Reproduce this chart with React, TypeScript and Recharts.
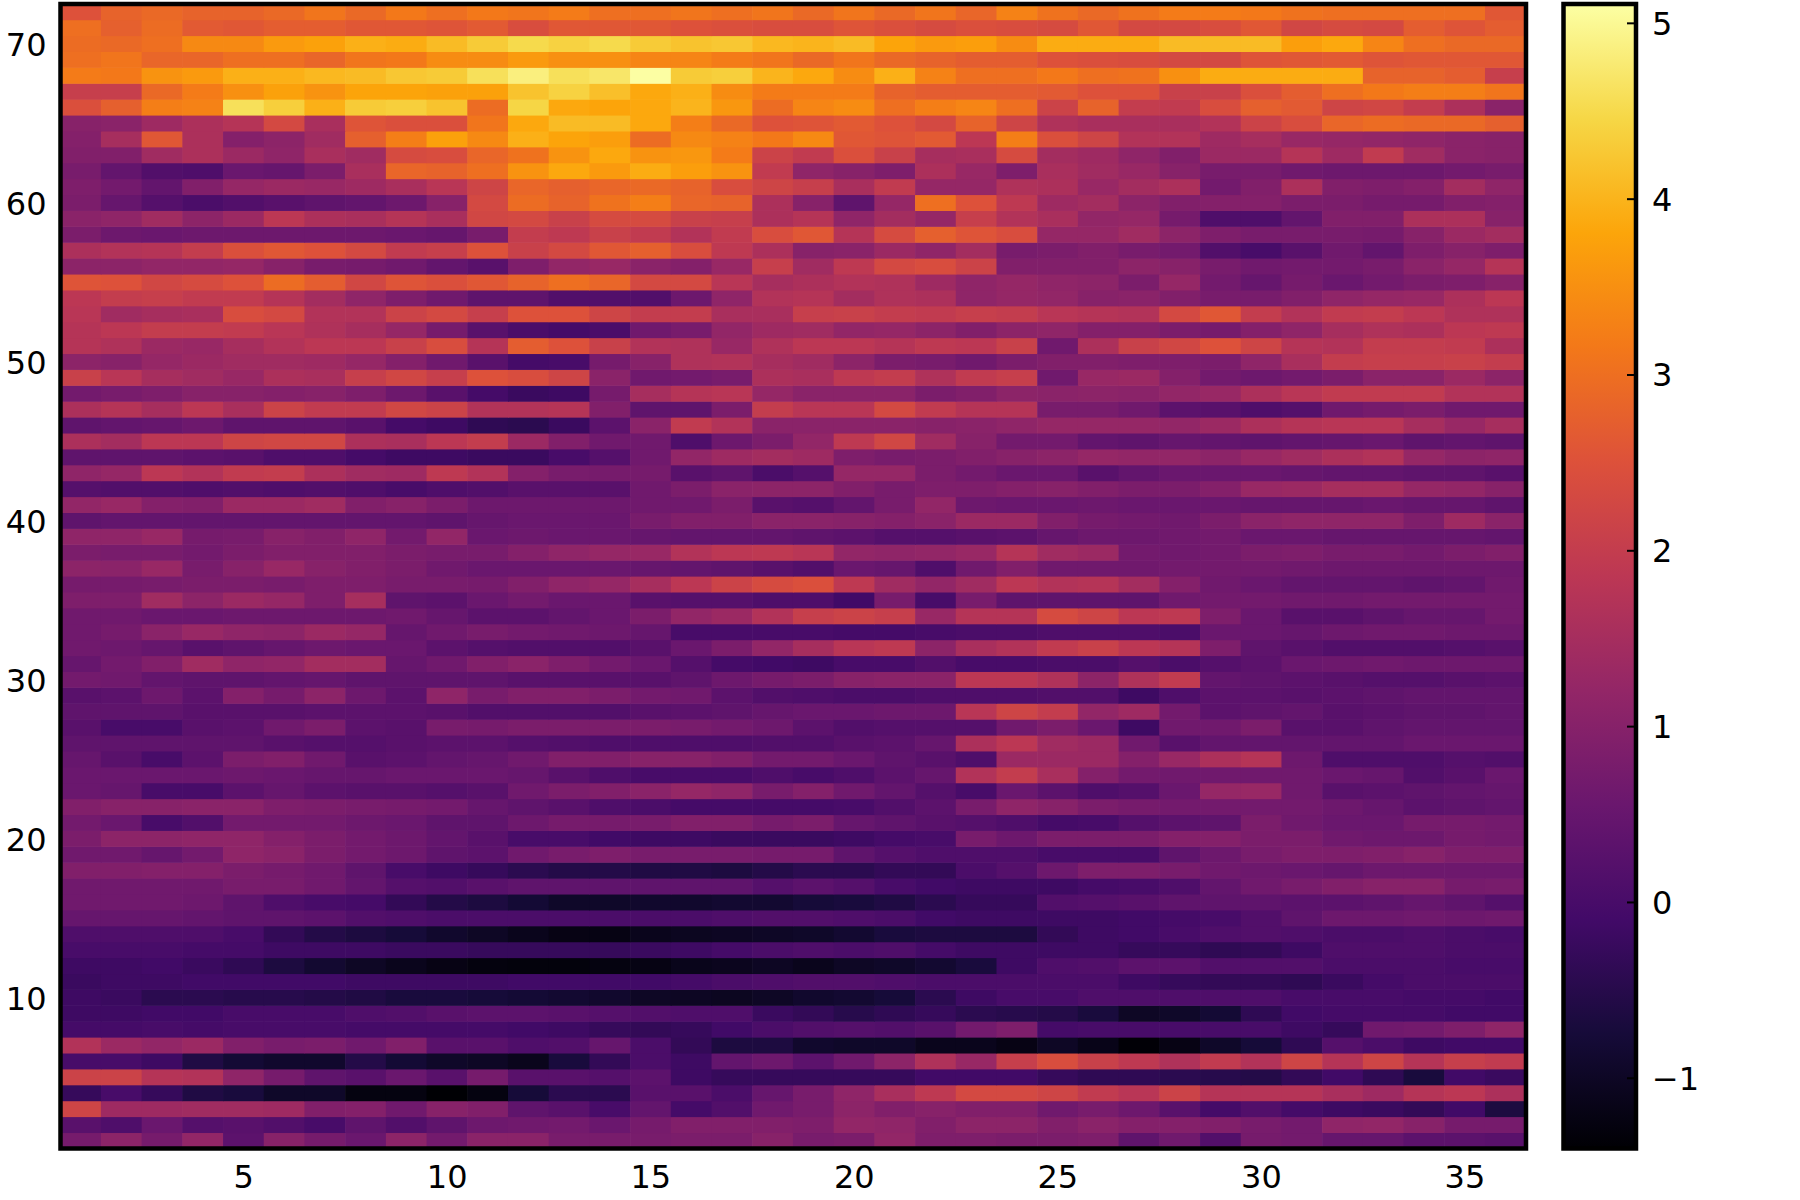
import React from "react";
import { ScatterChart, Scatter, XAxis, YAxis, ReferenceArea } from "recharts";

const r72 = [2.5,2.8,2.9,2.8,2.8,2.9,3.1,2.9,3.15,3.0,3.15,3.1,3.2,3.0,3.0,3.1,3.0,3.1,2.9,3.1,2.9,3.1,2.85,3.3,3.05,2.9,3.05,3.2,3.2,3.15,3.05,3.0,3.0,3.0,3.0,2.6];
const r71 = [3.0,2.75,2.95,2.65,2.6,2.7,2.7,2.6,2.6,2.55,2.65,2.4,2.6,2.6,2.6,2.5,2.45,2.4,2.4,2.55,2.45,2.35,2.45,2.4,2.35,2.6,2.3,2.3,2.4,2.6,2.25,2.35,2.3,2.7,2.55,2.7];
const r70 = [2.95,2.9,3.0,3.4,3.4,3.65,3.75,3.95,3.9,4.1,4.3,4.5,4.4,4.5,4.3,4.2,4.25,4.05,4.0,4.1,3.8,3.65,3.7,3.45,3.9,3.9,3.9,4.1,4.1,4.1,3.7,3.85,3.35,3.0,2.9,2.9];
const r69 = [3.0,3.1,2.85,2.85,3.0,3.0,2.85,3.1,3.15,3.45,3.45,3.65,3.5,3.5,3.35,3.35,3.2,3.1,2.9,3.1,2.9,2.8,2.7,2.7,2.5,2.45,2.4,2.3,2.3,2.55,2.6,2.65,2.55,2.6,2.6,2.6];
const r68 = [3.2,3.15,3.55,3.65,3.95,3.95,4.05,4.1,4.25,4.3,4.6,4.85,4.6,4.7,5.1,4.3,4.35,4.0,3.85,3.45,3.95,3.3,3.0,3.0,3.15,3.0,3.05,3.5,3.9,3.9,3.9,3.9,2.8,2.8,2.7,2.05];
const r67 = [2.05,2.05,2.9,3.2,3.5,3.75,3.55,3.8,3.8,3.75,3.75,4.2,4.4,4.15,3.85,3.95,3.45,3.2,3.2,3.2,2.8,2.7,2.7,2.7,2.65,2.5,2.5,2.1,2.1,2.45,2.7,3.0,3.15,3.25,3.25,3.1];
const r66 = [2.45,2.75,3.25,3.3,4.6,4.35,3.95,4.3,4.35,4.2,2.95,4.45,3.85,3.8,3.85,4.0,3.6,2.95,3.35,3.45,3.0,3.25,3.35,3.0,2.15,2.8,2.0,1.95,2.4,2.75,2.65,2.2,2.25,2.0,1.6,1.0];
const r65 = [0.95,1.0,1.35,1.6,1.75,2.3,1.55,2.55,2.45,2.45,3.1,3.85,4.1,4.1,3.85,3.25,2.9,2.5,2.55,2.65,2.5,2.3,2.8,2.2,1.65,1.55,1.55,1.55,1.7,2.15,2.4,2.85,2.95,2.9,2.9,2.75];
const r64 = [0.9,1.5,2.6,1.6,0.9,1.05,1.4,2.75,3.25,3.75,3.4,3.95,3.8,3.7,2.95,3.4,3.3,3.15,3.4,2.6,2.55,2.65,1.85,3.25,2.45,2.2,1.7,1.7,1.35,1.5,1.25,1.2,1.15,1.1,1.0,0.95];
const r63 = [0.85,0.85,1.4,1.6,1.3,1.1,1.55,1.4,2.35,2.4,2.85,3.05,3.55,3.85,3.55,3.6,3.2,2.15,1.95,2.45,2.1,1.5,1.55,2.35,1.45,1.35,1.1,0.85,1.3,1.3,1.75,1.35,1.95,1.4,1.0,0.95];
const r62 = [0.7,0.35,0.1,0.05,0.45,0.4,0.75,1.55,2.85,2.8,3.0,3.55,3.85,3.65,3.9,3.7,3.55,1.95,1.1,0.95,0.8,1.6,1.25,0.8,1.55,1.4,1.25,0.95,0.7,0.7,0.55,0.5,0.5,0.5,0.6,0.7];
const r61 = [0.8,0.6,0.35,0.85,1.2,1.3,1.25,1.35,1.55,1.8,2.2,2.85,2.75,2.85,2.9,2.8,2.4,2.2,2.05,1.55,1.95,1.2,1.2,1.65,1.6,1.25,1.45,1.6,0.6,0.85,1.6,0.85,0.8,0.9,1.45,1.1];
const r60 = [0.75,0.4,0.15,0.0,0.1,0.2,0.3,0.35,0.5,0.95,2.3,2.95,2.8,3.05,3.25,2.85,2.8,1.6,0.95,0.3,1.2,3.0,2.5,1.9,1.35,1.45,1.05,0.85,0.9,0.9,0.75,0.75,0.65,0.65,0.85,0.9];
const r59 = [1.0,1.1,1.4,1.05,1.3,1.85,1.6,1.55,1.75,1.55,2.25,2.3,2.1,2.35,2.35,2.1,2.05,1.6,1.75,1.1,1.45,1.2,2.05,1.7,1.55,1.15,1.2,0.65,0.05,0.05,0.35,0.85,0.85,1.6,1.6,0.95];
const r58 = [0.75,0.5,0.45,0.5,0.5,0.5,0.5,0.5,0.45,0.4,0.7,2.0,1.9,2.1,1.95,1.7,1.95,2.4,2.6,1.75,2.35,2.75,2.55,2.4,1.2,1.2,1.4,1.05,0.8,0.7,0.7,0.7,0.65,0.95,1.3,1.45];
const r57 = [1.6,1.7,1.75,2.0,2.45,2.6,2.5,2.3,1.95,2.05,2.5,2.1,2.3,2.6,2.75,2.4,1.9,1.6,0.95,1.0,1.3,1.1,1.45,0.7,0.75,0.85,0.7,0.6,0.1,-0.05,0.2,0.55,0.35,0.8,0.95,0.8];
const r56 = [1.05,1.05,1.15,1.15,1.2,0.95,0.7,0.65,0.55,0.35,0.2,0.8,1.15,1.25,1.0,0.9,1.25,2.05,1.4,1.9,2.3,2.4,2.15,0.85,0.85,0.85,1.05,0.95,0.7,0.55,0.6,0.6,0.7,1.0,1.2,1.75];
const r55 = [2.55,2.5,2.25,2.35,2.5,2.95,2.7,2.25,2.55,2.45,2.6,2.8,3.0,2.85,2.3,2.3,1.8,1.5,1.6,1.7,1.65,1.35,1.1,1.2,1.1,1.05,0.75,1.2,0.6,0.4,0.65,0.45,0.6,0.75,0.8,0.95];
const r54 = [1.85,2.0,2.05,1.95,1.95,1.75,1.45,1.1,0.8,0.55,0.3,0.3,0.1,0.1,0.1,0.5,1.1,1.7,1.75,1.45,1.65,1.6,1.1,1.2,1.15,0.95,1.0,0.85,0.7,0.7,0.85,1.1,1.2,1.25,1.6,1.85];
const r53 = [1.8,1.4,1.5,1.55,2.4,2.3,1.7,1.7,2.15,2.3,2.05,2.5,2.5,2.2,2.0,2.0,1.55,1.55,2.05,2.1,2.0,1.95,2.05,2.0,1.8,1.75,1.7,2.3,2.6,2.0,1.7,1.95,2.0,1.85,1.65,1.65];
const r52 = [1.75,1.85,2.0,2.0,1.95,1.8,1.65,1.5,1.2,0.65,0.2,0.0,-0.1,0.0,0.55,0.7,1.15,1.35,1.4,1.15,1.2,1.05,0.85,1.05,1.1,0.9,0.9,0.75,0.65,0.9,1.1,1.5,1.65,1.6,1.85,1.9];
const r51 = [1.75,1.65,1.3,1.25,1.5,1.7,1.85,1.85,2.1,2.4,1.75,2.7,2.5,2.1,1.7,1.65,1.25,1.65,1.85,1.85,1.75,1.9,1.85,2.1,0.55,1.6,2.1,2.25,2.5,2.2,1.75,1.7,2.0,2.0,1.95,1.6];
const r50 = [1.05,0.95,1.2,1.3,1.4,1.4,1.35,1.2,0.9,0.55,0.2,-0.1,-0.05,0.65,0.95,1.65,1.7,1.5,1.4,1.05,0.75,0.7,0.55,0.75,0.85,0.85,0.8,0.8,0.75,1.1,1.55,2.0,2.05,2.05,2.1,2.0];
const r49 = [2.1,1.8,1.5,1.4,1.25,1.6,1.55,2.05,2.25,2.05,2.5,2.4,2.2,1.0,0.55,0.6,0.7,1.6,1.55,1.9,2.0,1.65,1.95,2.05,0.55,1.25,1.3,0.9,0.6,0.5,0.6,0.75,1.0,1.0,1.3,1.05];
const r48 = [0.6,0.7,0.8,0.95,0.95,0.9,0.95,0.8,0.5,0.2,-0.1,-0.25,-0.2,0.65,1.5,1.75,1.8,1.2,1.0,1.0,1.0,0.75,0.85,1.05,1.0,1.05,1.0,1.15,1.25,1.6,1.8,1.95,1.95,1.95,1.7,1.7];
const r47 = [1.6,1.75,1.5,1.85,1.55,2.15,1.95,1.95,2.25,2.15,1.7,1.7,1.75,0.85,0.3,0.3,0.75,2.0,1.8,1.8,2.3,1.95,1.75,1.75,0.7,0.7,0.55,0.25,0.2,0.05,0.15,0.55,0.65,0.75,0.55,0.55];
const r46 = [0.3,0.35,0.4,0.5,0.3,0.3,0.3,0.2,-0.1,-0.2,-0.4,-0.45,-0.25,0.25,1.0,1.95,1.7,1.0,1.0,1.0,1.0,0.95,1.0,1.1,1.2,1.2,1.2,1.15,1.3,1.6,1.75,1.8,1.8,1.5,1.25,1.5];
const r45 = [1.6,1.45,1.85,1.85,2.2,2.25,2.25,1.6,1.55,1.85,2.0,1.3,0.85,0.55,0.55,0.05,0.5,0.75,1.15,1.9,2.25,1.4,0.95,0.6,0.6,0.35,0.3,0.4,0.35,0.3,0.35,0.4,0.45,0.3,0.35,0.3];
const r44 = [0.3,0.3,0.3,0.25,0.2,0.05,0.05,-0.1,-0.2,-0.2,-0.25,-0.25,-0.05,0.15,0.55,1.15,1.35,1.45,1.35,0.8,0.7,0.75,0.85,0.95,1.05,1.2,1.15,1.15,1.05,1.25,1.4,1.6,1.7,1.2,1.05,1.1];
const r43 = [1.1,1.2,1.85,1.7,1.95,2.0,1.6,1.4,1.35,1.9,1.7,0.9,0.7,0.65,0.65,0.2,0.3,0.0,0.15,1.2,1.2,0.75,0.6,0.45,0.45,0.2,0.35,0.45,0.45,0.45,0.4,0.35,0.35,0.3,0.3,0.2];
const r42 = [0.15,0.1,0.1,0.05,0.1,0.05,0.1,0.05,-0.05,0.05,0.1,0.2,0.2,0.2,0.55,0.75,1.0,1.05,1.05,0.85,0.7,0.8,0.8,0.9,0.95,0.85,0.75,0.75,0.9,1.25,1.3,1.5,1.5,1.2,1.15,0.95];
const r41 = [1.15,1.25,0.9,0.85,1.3,1.3,1.4,0.85,0.95,0.75,0.5,0.5,0.5,0.5,0.55,0.55,0.75,0.2,0.15,0.35,0.7,1.15,0.5,0.45,0.45,0.5,0.45,0.45,0.45,0.4,0.4,0.4,0.45,0.4,0.4,0.3];
const r40 = [0.3,0.35,0.35,0.35,0.35,0.35,0.35,0.35,0.35,0.3,0.4,0.45,0.45,0.45,0.7,0.85,0.85,1.0,1.0,0.95,0.9,1.0,1.3,1.3,0.85,0.65,0.6,0.55,0.75,1.0,1.1,1.1,1.1,0.8,1.35,1.0];
const r39 = [1.1,1.1,1.25,0.65,0.7,0.95,0.85,1.1,0.6,1.15,0.45,0.5,0.45,0.45,0.4,0.35,0.35,0.35,0.3,0.25,0.15,0.15,0.2,0.25,0.4,0.5,0.5,0.55,0.6,0.45,0.45,0.4,0.4,0.4,0.4,0.35];
const r38 = [0.75,0.7,0.7,0.6,0.75,0.85,0.85,0.85,0.75,0.7,0.7,0.9,1.1,1.2,1.25,1.7,1.85,1.9,1.8,1.15,1.1,1.15,1.25,1.75,1.4,1.3,0.6,0.55,0.6,0.75,0.8,0.7,0.7,0.6,0.75,0.85];
const r37 = [1.05,1.0,1.25,0.7,0.95,1.25,0.95,0.85,0.75,0.55,0.45,0.45,0.45,0.45,0.4,0.35,0.3,0.2,0.1,0.45,0.4,0.05,0.55,0.85,0.55,0.55,0.55,0.6,0.6,0.6,0.55,0.5,0.5,0.5,0.5,0.5];
const r36 = [0.65,0.65,0.7,0.75,0.75,0.7,0.8,0.8,0.7,0.7,0.65,0.85,1.1,1.2,1.5,1.85,2.15,2.35,2.45,1.9,1.4,1.15,1.4,1.85,1.7,1.75,1.45,0.9,0.55,0.45,0.35,0.35,0.35,0.3,0.35,0.55];
const r35 = [0.8,0.8,1.4,1.05,1.3,1.2,0.8,1.5,0.3,0.25,0.45,0.6,0.45,0.45,0.2,0.15,0.15,0.05,0.05,-0.15,0.7,-0.05,0.7,0.3,0.3,0.3,0.3,0.55,0.6,0.6,0.55,0.55,0.6,0.6,0.6,0.6];
const r34 = [0.55,0.55,0.45,0.45,0.5,0.5,0.5,0.5,0.55,0.4,0.25,0.25,0.35,0.45,0.75,1.15,1.3,1.7,2.05,2.15,2.05,1.25,1.75,1.75,2.35,2.2,1.85,1.9,0.8,0.45,0.2,0.2,0.3,0.4,0.4,0.6];
const r33 = [0.55,0.65,1.0,1.25,1.1,1.05,1.3,1.2,0.4,0.55,0.7,0.6,0.55,0.5,0.4,-0.05,-0.05,-0.05,-0.05,-0.1,-0.1,-0.05,0,0,0.05,0.05,0.05,0.0,0.45,0.45,0.4,0.5,0.55,0.55,0.5,0.5];
const r32 = [0.55,0.5,0.4,0.2,0.3,0.4,0.5,0.45,0.45,0.25,0.15,0.1,0.1,0.1,0.2,0.45,0.75,1.15,1.5,1.8,1.9,1.05,1.55,1.7,1.95,2.1,1.85,1.75,0.8,0.3,0.2,0.1,0.1,0.1,0.15,0.2];
const r31 = [0.4,0.6,0.85,1.4,1.1,1.15,1.45,1.45,0.4,0.55,0.85,1.0,0.8,0.6,0.45,0.15,-0.1,-0.15,-0.2,-0.05,-0.05,0.1,-0.05,-0.05,0.0,0,0.15,0.0,0.15,0.25,0.45,0.5,0.55,0.5,0.5,0.5];
const r30 = [0.6,0.55,0.35,0.3,0.3,0.35,0.4,0.3,0.3,0.3,0.3,0.2,0.2,0.2,0.2,0.3,0.5,0.65,0.75,0.95,1.0,1.0,1.85,1.85,1.65,1.05,1.65,1.95,0.35,0.3,0.25,0.2,0.15,0.15,0.2,0.25];
const r29 = [0.2,0.25,0.5,0.25,0.9,0.65,1.05,0.5,0.25,1.1,0.7,0.85,0.85,0.75,0.6,0.55,0.25,0.1,0.05,0.0,0.0,0.05,0.05,0.05,0.1,0.1,-0.2,0.05,0.25,0.25,0.2,0.25,0.3,0.35,0.35,0.35];
const r28 = [0.3,0.3,0.3,0.2,0.2,0.2,0.25,0.25,0.25,0.2,0.1,0.1,0.1,0.1,0.2,0.25,0.3,0.4,0.45,0.45,0.5,0.5,1.8,2.2,2.0,1.15,1.35,0.6,0.25,0.3,0.35,0.2,0.25,0.3,0.3,0.35];
const r27 = [0.2,-0.05,-0.05,0.2,0.25,0.55,0.75,0.25,0.2,0.7,0.65,0.75,0.75,0.75,0.75,0.7,0.6,0.5,0.25,0.1,0.15,0.15,0.15,0.55,0.75,0.45,-0.2,0.55,0.55,0.75,0.2,0.2,0.3,0.35,0.35,0.35];
const r26 = [0.3,0.3,0.3,0.3,0.3,0.2,0.15,0.15,0.2,0.25,0.25,0.15,0.1,0.05,0.05,0.05,0.05,0.1,0.1,0.2,0.25,0.4,1.6,1.85,1.4,1.3,0.55,0.2,0.35,0.35,0.35,0.35,0.35,0.45,0.45,0.45];
const r25 = [0.4,0.2,-0.05,0.25,0.75,0.85,0.55,0.2,0.25,0.35,0.4,0.55,0.85,0.85,0.95,0.95,0.85,0.6,0.6,0.45,0.3,0.2,0.05,1.3,1.3,1.3,0.9,1.25,1.6,1.75,0.5,0.05,0.05,0.05,0.15,0.1];
const r24 = [0.45,0.45,0.45,0.45,0.5,0.45,0.4,0.4,0.45,0.45,0.45,0.4,0.2,0.05,-0.05,-0.05,-0.05,0.05,-0.05,0.05,0.25,0.4,1.7,2.0,1.55,0.9,0.6,0.55,0.55,0.55,0.55,0.45,0.4,0.1,0.2,0.45];
const r23 = [0.45,0.4,-0.05,-0.05,0.25,0.4,0.25,0.2,0.2,0.15,0.2,0.55,0.75,0.85,1.0,1.2,1.1,0.7,0.9,0.55,0.35,0.15,-0.05,0.45,0.25,0.05,0.15,0.45,1.2,1.25,0.55,0.2,0.25,0.3,0.35,0.4];
const r22 = [0.85,0.95,0.95,1.0,1.0,0.8,0.75,0.7,0.65,0.6,0.4,0.3,0.2,0.05,0,-0.1,-0.1,-0.1,-0.1,-0.05,0.1,0.25,0.7,1.1,0.95,0.75,0.65,0.6,0.6,0.6,0.6,0.5,0.4,0.25,0.3,0.35];
const r21 = [0.6,0.45,-0.05,0.1,0.6,0.6,0.6,0.5,0.45,0.3,0.3,0.5,0.65,0.65,0.7,0.85,0.85,0.65,0.75,0.4,0.3,0.2,0.15,0.05,-0.1,-0.05,0.15,0.25,0.3,0.75,0.55,0.45,0.45,0.65,0.65,0.6];
const r20 = [0.75,1.05,1.05,1.1,1.1,0.9,0.75,0.6,0.5,0.35,0.2,-0.05,-0.05,-0.15,-0.2,-0.2,-0.25,-0.25,-0.25,-0.2,-0.1,-0.05,0.7,0.5,0.75,0.75,0.75,0.9,0.9,0.75,0.75,0.55,0.5,0.5,0.65,0.6];
const r19 = [0.55,0.55,0.4,0.6,1.1,1.0,0.75,0.6,0.5,0.3,0.25,0.55,0.7,0.8,0.7,0.7,0.7,0.65,0.65,0.3,0.15,0.05,0.05,0.05,-0.05,-0.05,-0.05,0.3,0.5,0.7,0.8,0.8,0.85,0.95,0.8,0.8];
const r18 = [0.85,0.85,0.9,0.9,0.75,0.65,0.55,0.3,-0.05,-0.2,-0.3,-0.45,-0.55,-0.55,-0.6,-0.6,-0.65,-0.55,-0.45,-0.45,-0.35,-0.35,0.0,0.15,0.5,0.8,0.8,0.7,0.55,0.5,0.45,0.4,0.5,0.5,0.5,0.5];
const r17 = [0.55,0.55,0.55,0.55,0.7,0.7,0.55,0.35,0.15,0.1,0.2,0.3,0.3,0.3,0.3,0.3,0.3,0.15,0.25,0.15,-0.05,-0.15,-0.2,-0.2,-0.2,-0.1,-0.05,0.05,0.35,0.55,0.7,0.85,0.95,0.95,0.65,0.7];
const r16 = [0.55,0.55,0.55,0.5,0.3,0.05,-0.05,-0.1,-0.35,-0.55,-0.65,-0.8,-0.95,-0.95,-0.9,-0.9,-0.85,-0.85,-0.75,-0.7,-0.6,-0.45,-0.3,-0.3,0.1,0.15,0.2,0.3,0.3,0.3,0.25,0.25,0.3,0.4,0.3,0.15];
const r15 = [0.4,0.4,0.4,0.35,0.3,0.3,0.25,0.1,0.05,0,0,0,0,0,0,0,0.05,0.1,0.1,0.05,0.0,-0.15,-0.2,-0.2,-0.2,-0.2,-0.15,-0.1,-0.05,0.1,0.3,0.5,0.5,0.55,0.5,0.55];
const r14 = [0.05,0.05,0.05,0.05,-0.05,-0.35,-0.55,-0.65,-0.75,-0.9,-1.0,-1.1,-1.2,-1.22,-1.1,-1.05,-1.02,-0.98,-0.95,-0.85,-0.7,-0.65,-0.65,-0.65,-0.35,-0.2,-0.15,-0.05,0.05,0.1,0.05,0,0,0.05,0,-0.05];
const r13 = [-0.05,-0.05,-0.05,-0.1,-0.1,-0.2,-0.2,-0.2,-0.25,-0.25,-0.3,-0.3,-0.3,-0.3,-0.25,-0.2,-0.1,0.0,0.05,0.0,0.05,-0.1,-0.2,-0.2,-0.2,-0.2,-0.3,-0.3,-0.4,-0.35,-0.2,0.05,0.05,0.05,0,0];
const r12 = [-0.2,-0.2,-0.15,-0.25,-0.4,-0.65,-0.85,-1.0,-1.1,-1.2,-1.28,-1.3,-1.3,-1.25,-1.22,-1.12,-1.08,-1.02,-1.1,-1.0,-0.95,-0.85,-0.7,-0.2,0.05,0.1,0.25,0.25,0.1,0.1,0.1,0,0,0,-0.05,-0.05];
const r11 = [-0.25,-0.2,-0.2,-0.15,-0.15,-0.15,-0.15,-0.2,-0.2,-0.2,-0.2,-0.15,-0.15,-0.15,-0.15,-0.1,0,0.05,0.1,0.1,0.05,0.0,0,0,0,0.0,-0.2,-0.3,-0.35,-0.35,-0.4,-0.25,-0.1,0,0.0,0];
const r10 = [-0.2,-0.25,-0.45,-0.45,-0.5,-0.5,-0.55,-0.6,-0.7,-0.7,-0.75,-0.8,-0.85,-0.9,-1.0,-1.02,-1.05,-1.0,-0.9,-0.85,-0.75,-0.45,-0.2,-0.05,-0.05,0.05,0.05,0.05,0.05,0.05,-0.05,-0.05,-0.05,-0.1,-0.1,-0.15];
const r9 = [-0.2,-0.2,-0.15,-0.15,-0.05,-0.05,-0.05,0.05,0.1,0.2,0.25,0.25,0.2,0.15,0.1,0.05,0.05,-0.25,-0.35,-0.5,-0.4,-0.3,-0.45,-0.5,-0.55,-0.7,-1.0,-0.95,-0.8,-0.4,-0.15,-0.1,-0.1,-0.1,-0.15,-0.15];
const r8 = [-0.1,-0.1,-0.05,-0.1,-0.05,-0.05,-0.05,-0.1,-0.1,-0.1,-0.1,-0.15,-0.2,-0.3,-0.35,-0.3,-0.15,0.0,0.1,0.15,0.1,0.2,0.6,0.8,-0.1,-0.05,-0.05,-0.05,-0.05,-0.05,-0.2,-0.3,0.55,0.6,0.8,1.1];
const r7 = [1.7,1.3,1.15,1.3,0.85,0.7,0.75,0.55,0.85,0.2,0.2,0.05,0.1,0.4,0.0,-0.35,-0.65,-0.65,-0.9,-0.95,-0.95,-1.1,-1.1,-1.2,-1.0,-1.15,-1.38,-1.2,-0.95,-0.75,-0.4,0.15,0.0,-0.2,-0.15,-0.15];
const r6 = [-0.05,-0.05,-0.2,-0.6,-0.8,-0.9,-0.9,-0.55,-0.8,-0.95,-1.0,-1.1,-0.7,-0.35,0.0,-0.2,0.35,0.5,0.25,0.55,1.05,1.65,1.25,2.05,2.4,2.1,1.9,1.65,1.95,1.7,2.2,1.75,2.2,1.75,2.05,1.95];
const r5 = [2.15,2.15,1.75,1.7,1.1,0.65,0.3,0.2,0.45,0.2,0.65,0.2,0.2,0.15,0.25,-0.2,-0.3,-0.3,-0.3,-0.3,-0.3,-0.15,-0.15,-0.15,-0.3,-0.4,-0.4,-0.45,-0.5,-0.55,-0.35,-0.15,-0.4,-0.7,-0.15,-0.25];
const r4 = [-0.3,-0.05,-0.3,-0.6,-0.7,-0.95,-0.95,-1.25,-1.25,-1.4,-1.25,-0.75,-0.45,-0.45,0.2,0.2,0.0,0.4,0.7,1.1,1.55,1.9,2.3,2.3,2.2,1.95,1.8,2.15,1.75,1.75,1.75,1.55,1.35,1.75,1.85,1.6];
const r3 = [2.2,1.35,1.35,1.4,1.4,1.35,0.85,0.9,0.55,0.95,0.85,0.3,0.2,-0.05,0.35,-0.1,0.1,0.55,0.7,1.05,0.85,0.95,0.85,0.85,0.55,0.7,0.5,0.2,-0.1,0.1,-0.1,-0.2,-0.25,-0.35,-0.15,-0.65];
const r2 = [0.2,0.05,0.45,0.15,0.2,0.1,-0.05,0.3,0.1,0.3,0.5,0.55,0.6,0.45,0.65,0.85,0.85,0.85,0.8,1.15,1.1,0.85,1.05,1.05,0.85,1.0,0.9,0.9,0.85,0.7,0.6,1.1,1.15,0.95,0.65,0.65];
const r1 = [0.65,1.05,0.65,1.15,0.25,0.95,0.65,0.45,1.05,0.6,1.0,1.0,0.7,0.7,0.7,0.75,0.75,0.95,0.7,0.75,1.15,0.8,0.8,0.75,0.75,0.8,0.3,0.55,0.1,0.65,0.6,0.4,0.4,0.25,0.25,0.2];

const rows = [r1,r2,r3,r4,r5,r6,r7,r8,r9,r10,r11,r12,r13,r14,r15,r16,r17,r18,r19,r20,r21,r22,r23,r24,r25,r26,r27,r28,r29,r30,r31,r32,r33,r34,r35,r36,r37,r38,r39,r40,r41,r42,r43,r44,r45,r46,r47,r48,r49,r50,r51,r52,r53,r54,r55,r56,r57,r58,r59,r60,r61,r62,r63,r64,r65,r66,r67,r68,r69,r70,r71,r72];

const xTicks = [5, 10, 15, 20, 25, 30, 35];
const yTicks = [10, 20, 30, 40, 50, 60, 70];
const barTicks = [-1, 0, 1, 2, 3, 4, 5];
const V_MIN = -1.4;
const V_MAX = 5.11;
const inferno = ["#000004","#160b39","#420a68","#6a176e","#932667","#bc3754","#dd513a","#f37819","#fca50a","#f6d746","#fcffa4"];

const cells = rows.flatMap((values, r) => values.map((value, c) => ({ col: c + 1, row: r + 1, value })));
const barAnchor = [{ x: 0.5, y: 0 }];

function hex(s: string) {
  return [1, 3, 5].map((i) => parseInt(s.slice(i, i + 2), 16));
}
function colorOf(v: number) {
  const lift = v > -0.6 && v < 1.6 ? 0.1 * (1 - Math.abs(v - 0.5) / 1.1) : 0;
  const t = Math.max(0, Math.min(1, (v + lift - V_MIN) / (V_MAX - V_MIN))) * (inferno.length - 1);
  const i = Math.min(inferno.length - 2, Math.floor(t));
  const a = hex(inferno[i]);
  const b = hex(inferno[i + 1]);
  const f = t - i;
  const m = a.map((x, k) => Math.round(x + (b[k] - x) * f));
  return `rgb(${m[0]},${m[1]},${m[2]})`;
}

const FONT = "'DejaVu Sans', sans-serif";
const CELL_W = 40.71;
const CELL_H = 15.9;
const noMark = () => null;

function HeatCell(props: any) {
  const { cx, cy, payload } = props;
  return (
    <rect
      x={cx - CELL_W / 2 - 0.3}
      y={cy - CELL_H / 2 - 0.3}
      width={CELL_W + 0.6}
      height={CELL_H + 0.6}
      fill={colorOf(payload.value)}
    />
  );
}

function BarTick(props: any) {
  const { x, y, payload } = props;
  const label = payload.value < 0 ? `\u2212${Math.abs(payload.value)}` : String(payload.value);
  return (
    <g>
      <line x1={x - 9} x2={x} y1={y} y2={y} stroke="#000" strokeWidth={2} />
      <text x={x + 16} y={y} dy={11.5} textAnchor="start" fontSize={32} fontFamily={FONT} fill="#000">
        {label}
      </text>
    </g>
  );
}

const tickStyle = { fontSize: 32, fontFamily: FONT, fill: "#000" };
const yTickStyle = { ...tickStyle, dy: 1 };

export default function App() {
  return (
    <div style={{ position: "absolute", left: 0, top: 0, width: 1800, height: 1200, background: "#fff" }}>
      <div style={{ position: "absolute", left: 0, top: 0 }}>
        <ScatterChart width={1540} height={1200} margin={{ left: 0.5, top: 4, right: 14, bottom: 1.4 }}>
          <XAxis
            type="number"
            dataKey="col"
            domain={[0.5, 36.5]}
            ticks={xTicks}
            height={50}
            axisLine={false}
            tickLine={false}
            tickSize={0}
            tickMargin={17}
            tick={tickStyle}
            interval={0}
            allowDataOverflow
          />
          <YAxis
            type="number"
            dataKey="row"
            domain={[0.5, 72.5]}
            ticks={yTicks}
            width={60}
            axisLine={false}
            tickLine={false}
            tickSize={0}
            tickMargin={14}
            tick={yTickStyle}
            interval={0}
            allowDataOverflow
          />
          <Scatter data={cells} shape={HeatCell} isAnimationActive={false} />
        </ScatterChart>
      </div>
      <div style={{ position: "absolute", left: 0, top: 0 }}>
        <ScatterChart width={1540} height={1200} margin={{ left: 60.5, top: 4, right: 14, bottom: 51.4 }}>
          <XAxis type="number" dataKey="col" domain={[0.5, 36.5]} hide />
          <YAxis type="number" dataKey="row" domain={[0.5, 72.5]} hide />
          <Scatter data={[{ col: 1, row: 1 }]} shape={noMark} isAnimationActive={false} />
          <ReferenceArea x1={0.5} x2={36.5} y1={0.5} y2={72.5} fill="none" stroke="#000" strokeWidth={4.5} ifOverflow="visible" />
        </ScatterChart>
      </div>
      <div style={{ position: "absolute", left: 1540, top: 0 }}>
        <ScatterChart width={260} height={1200} margin={{ left: 23.5, top: 4, right: 0, bottom: 51.4 }}>
          <defs>
            <linearGradient id="cbar" x1="0" y1="1" x2="0" y2="0">
              {inferno.map((c, i) => (
                <stop key={c} offset={i / (inferno.length - 1)} stopColor={c} />
              ))}
            </linearGradient>
          </defs>
          <XAxis type="number" dataKey="x" domain={[0, 1]} hide />
          <YAxis
            type="number"
            dataKey="y"
            orientation="right"
            domain={[V_MIN, V_MAX]}
            ticks={barTicks}
            width={164}
            axisLine={false}
            tickLine={false}
            tickSize={0}
            tickMargin={0}
            tick={<BarTick />}
            interval={0}
            allowDataOverflow
          />
          <Scatter data={barAnchor} shape={noMark} isAnimationActive={false} />
          <ReferenceArea x1={0} x2={1} y1={V_MIN} y2={V_MAX} fill="url(#cbar)" fillOpacity={1} stroke="#000" strokeWidth={4.5} ifOverflow="visible" />
        </ScatterChart>
      </div>
    </div>
  );
}
